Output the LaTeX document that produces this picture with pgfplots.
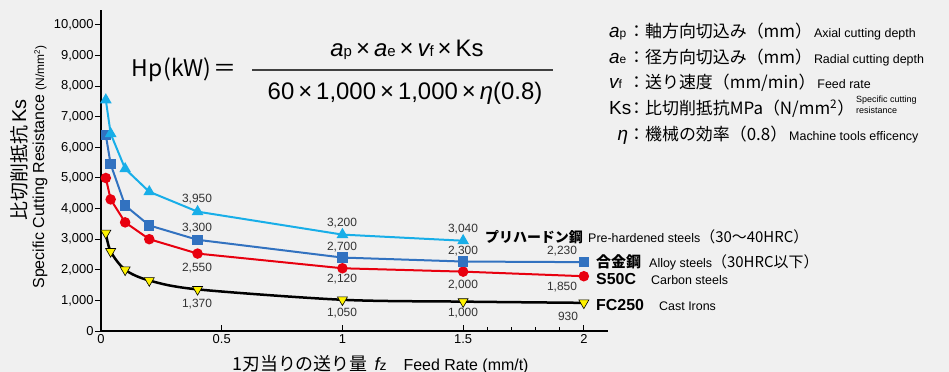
\documentclass[border=0pt]{standalone}
\usepackage{fontspec}
\setmainfont{Liberation Sans}
\newfontfamily\jp{Noto Sans CJK JP}
\usepackage{pgfplots}
\pgfplotsset{compat=1.18}
\definecolor{bg}{HTML}{F0F0F0}
\definecolor{cy}{HTML}{18AEE8}
\definecolor{bl}{HTML}{3272C0}
\definecolor{rd}{HTML}{E8000F}
\definecolor{yl}{HTML}{FFF200}
\definecolor{lab}{HTML}{333333}
\newcommand\fs[1]{\fontsize{#1}{#1}\selectfont}
\newcommand\X{\hspace{4bp}×\hspace{4bp}}
\begin{document}
\begin{tikzpicture}
\path[use as bounding box, fill=bg] (-101bp,-41bp) rectangle (848bp,331bp);
\begin{axis}[
  at={(0,0)}, anchor=south west,
  scale only axis, width=507bp, height=321bp,
  xmin=0, xmax=2.1, ymin=0, ymax=10490,
  axis x line=bottom, axis y line=left,
  axis line style={-, line width=2bp, black},
  xtick={0,0.5,1,1.5,2}, xticklabels={0,0.5,1,1.5,2},
  minor xtick={1.6,1.7,1.8,1.9},
  ytick={0,1000,...,10000},
  scaled y ticks=false,
  tick align=inside,
  major tick length=6bp, minor tick length=4bp,
  tick style={black, line width=1bp},
  y tick style={xshift=-6bp},
  /pgf/number format/assume math mode=true,
  /pgf/number format/1000 sep={,},
  yticklabel style={font=\fs{13}, xshift=-4bp},
  xticklabel style={font=\fs{13}},
  clip=false,
]
\addplot[black, line width=2.5bp, smooth, mark=triangle*, mark size=5.8bp,
  mark options={fill=yl, draw=black, line width=0.6bp, rotate=180}]
  coordinates {(0.02,3200)(0.04,2600)(0.1,2000)(0.2,1650)(0.4,1360)(1,1020)(1.5,960)(2,920)};
\addplot[rd, line width=2bp, mark=*, mark size=4.2bp]
  coordinates {(0.02,5000)(0.04,4300)(0.1,3550)(0.2,3000)(0.4,2530)(1,2050)(1.5,1940)(2,1790)};
\addplot[bl, line width=2bp, mark=square*, mark size=4.2bp]
  coordinates {(0.02,6400)(0.04,5450)(0.1,4100)(0.2,3450)(0.4,2980)(1,2400)(1.5,2270)(2,2250)};
\addplot[cy, line width=2bp, mark=triangle*, mark size=4.8bp]
  coordinates {(0.02,7550)(0.04,6450)(0.1,5300)(0.2,4550)(0.4,3900)(1,3150)(1.5,2950)};
\end{axis}
% axis titles
\node[rotate=90] at (-82bp,171bp) {{\jp\fs{19}比切削抵抗} {\fs{20}Ks}};
\node[rotate=90] at (-61bp,164bp) {\fs{16}Specific Cutting Resistance {\fs{12}(N/mm\textsuperscript{2})}};
\node[anchor=base west, inner sep=0pt] at (131bp,-39bp) {{\jp\fs{18}1刃当りの送り量}\hspace{7bp}{\fs{18}\itshape f}{\fs{14}z}\hspace{17bp}{\fs{16}Feed Rate (mm/t)}};
% data labels
\begin{scope}[every node/.style={font=\fs{12}, text=lab, inner sep=0pt}]
\node at (96bp,132bp) {3,950};
\node at (96bp,103bp) {3,300};
\node at (96bp,63bp) {2,550};
\node at (96bp,27bp) {1,370};
\node at (241bp,108bp) {3,200};
\node at (241bp,84bp) {2,700};
\node at (241bp,52bp) {2,120};
\node at (241bp,18bp) {1,050};
\node at (362bp,102bp) {3,040};
\node at (362bp,80bp) {2,300};
\node at (362bp,46bp) {2,000};
\node at (362bp,18bp) {1,000};
\node at (461bp,80bp) {2,230};
\node at (461bp,44bp) {1,850};
\node at (467bp,15bp) {930};
\end{scope}
% series names
\begin{scope}[every node/.style={anchor=base west, inner sep=0pt}]
\node at (384bp,88bp) {\makebox[103bp][l]{\jp\bfseries\fs{14}プリハードン鋼}{\fs{12.5}Pre-hardened steels}{\jp\fs{15}（30～40HRC）}};
\node at (495bp,63bp) {\makebox[53bp][l]{\jp\bfseries\fs{15}合金鋼}{\fs{12.5}Alloy steels}{\jp\fs{15}（30HRC以下）}};
\node at (495bp,46bp) {\makebox[55bp][l]{\bfseries\fs{16}S50C}{\fs{12.5}Carbon steels}};
\node at (495bp,21bp) {\makebox[63bp][l]{\bfseries\fs{16}FC250}{\fs{12.5}Cast Irons}};
\end{scope}
% formula
\node at (83bp,261bp) {\jp\fs{23}Hp\hspace{1bp}(kW)\hspace{2bp}＝};
\node at (306bp,281bp) {\fs{24}{\itshape a}{\fs{15}p}\X{\itshape a}{\fs{15}e}\X{\itshape v}{\fs{15}f}\X Ks};
\draw[line width=1.5bp, black!75] (151bp,261bp) -- (452bp,261bp);
\node at (304bp,238bp) {\fs{24}60\X1,000\X1,000\X{\itshape η}(0.8)};
% definitions
\begin{scope}[every node/.style={anchor=base west, inner sep=0pt}]
\node at (508bp,293bp) {\makebox[19bp][l]{{\fs{19}\itshape a}{\fs{12}p}}{\jp\fs{17}：軸方向切込み（mm）}\hspace{2bp}{\fs{12.5}Axial cutting depth}};
\node at (508bp,267bp) {\makebox[19bp][l]{{\fs{19}\itshape a}{\fs{12}e}}{\jp\fs{17}：径方向切込み（mm）}\hspace{2bp}{\fs{12.5}Radial cutting depth}};
\node at (508bp,242bp) {\makebox[19bp][l]{{\fs{19}\itshape v}{\fs{12}f}}{\jp\fs{17}：送り速度（mm/min）}\hspace{2bp}{\fs{12.5}Feed rate}};
\node at (508bp,216bp) {\makebox[19bp][l]{\fs{19}Ks}{\jp\fs{17}：比切削抵抗MPa（N/mm\textsuperscript{2}）}\hspace{2bp}\raisebox{1bp}{\fs{9}\shortstack[l]{Specific cutting\\resistance}}};
\node at (508bp,190bp) {\makebox[19bp][r]{\fs{19}\itshape η}{\jp\fs{17}：機械の効率（0.8）}\hspace{2bp}{\fs{12.5}Machine tools efficency}};
\end{scope}
\end{tikzpicture}
\end{document}
